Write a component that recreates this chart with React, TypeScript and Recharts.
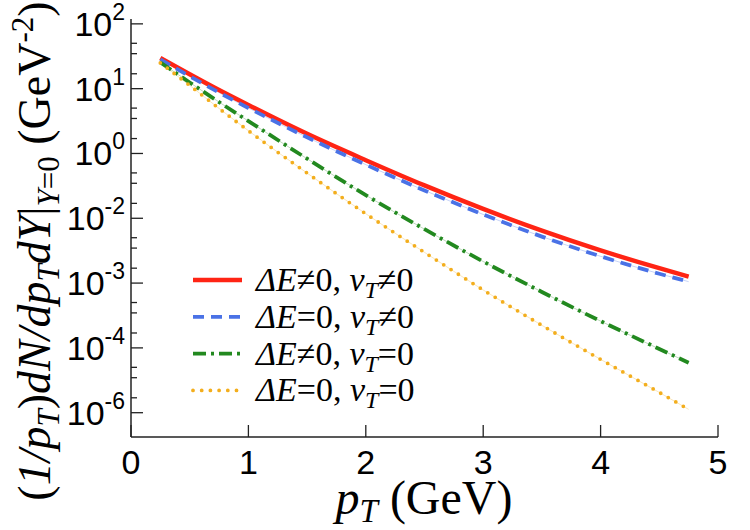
import React from 'react'
import { LineChart, Line, XAxis, YAxis } from 'recharts'

// p_T grid (GeV) and the four spectra (GeV^-2)
const pT = [0.25, 0.5, 0.75, 1, 1.5, 2, 2.5, 3, 3.5, 4, 4.5, 4.75]
const withBoth = [19.9, 9.19, 4.35, 2.14, 0.546, 0.157, 0.0475, 0.0156, 0.00558, 0.00219, 0.000938, 0.00063]
const flowOnly = [18.6, 8.36, 3.86, 1.86, 0.463, 0.127, 0.0374, 0.012, 0.0042, 0.00165, 0.000723, 0.000497]
const eLossOnly = [16.1, 6.23, 2.46, 1.0, 0.168, 0.0299, 0.00597, 0.00129, 0.000305, 7.66e-5, 2.05e-5, 1.07e-5]
const neither = [15.7, 5.41, 1.82, 0.633, 0.0851, 0.0124, 0.00199, 0.000335, 6.28e-5, 1.25e-5, 2.61e-6, 1.17e-6]

const xTicks = [0, 1, 2, 3, 4, 5]
// printed exponents on the y axis (evenly spaced from 1e2 down to 1e-6)
const yExponents = ['2', '1', '0', '-2', '-3', '-4', '-6']
const yMajor = yExponents.map((_, k) => 10 ** (2 - (8 * k) / 6))
const minorFrac = [0.3, 0.46, 0.77]
const yMinor = yMajor.slice(0, -1).flatMap((_, k) => minorFrac.map((f) => 10 ** (2 - ((k + f) * 8) / 6)))
const yTicks = [...yMajor, ...yMinor]

const series = [
  { key: 'withBoth', data: withBoth, color: '#ff2414', dash: undefined, cap: 'butt', e: '≠', v: '≠' },
  { key: 'flowOnly', data: flowOnly, color: '#4a72e6', dash: '11 7', cap: 'butt', e: '=', v: '≠' },
  { key: 'eLossOnly', data: eLossOnly, color: '#22891f', dash: '13 5 3 5', cap: 'butt', e: '≠', v: '=' },
  { key: 'neither', data: neither, color: '#f3ae1d', dash: '0 8.7', cap: 'round', e: '=', v: '=' },
]

const rows = pT.map((x, i) => {
  const r: Record<string, number> = { pT: x }
  series.forEach((s) => (r[s.key] = s.data[i]))
  return r
})

const AX = '#222'
const sans = '"Liberation Sans", Arial, sans-serif'
const serif = '"Liberation Serif", "Times New Roman", serif'

const isMajor = (v: number) => yMajor.findIndex((t) => Math.abs(Math.log10(t) - Math.log10(v)) < 1e-6)

const XTick = (props: any) => {
  const { x, y, payload, side } = props
  const dir = side === 'bottom' ? -1 : 1
  return (
    <g>
      <line x1={x} x2={x} y1={y} y2={y + dir * 12} stroke={AX} strokeWidth={1.3} />
      {side === 'bottom' && (
        <text x={x} y={y + 37} textAnchor="middle" fontFamily={sans} fontSize={34} fill="#000">
          {payload.value}
        </text>
      )}
    </g>
  )
}

const YTick = (props: any) => {
  const { x, y, payload, side } = props
  const k = isMajor(payload.value)
  const len = k >= 0 ? 12 : 6
  const dir = side === 'left' ? 1 : -1
  return (
    <g>
      <line x1={x} x2={x + dir * len} y1={y} y2={y} stroke={AX} strokeWidth={1.3} />
      {side === 'left' && k >= 0 && (
        <text x={x - 6} y={y + 12} textAnchor="end" fontFamily={sans} fontSize={34} fill="#000">
          10
          <tspan dy={-16} fontSize={23}>{yExponents[k]}</tspan>
        </text>
      )}
    </g>
  )
}

export default function App() {
  return (
    <div style={{ position: 'absolute', left: 0, top: 0, width: 750, height: 530, background: '#fff' }}>
      <LineChart width={750} height={530} data={rows} margin={{ top: 19, right: 32, left: 0, bottom: 0 }}>
        <XAxis
          dataKey="pT" type="number" domain={[0, 5]} ticks={xTicks} interval={0} height={93}
          allowDataOverflow tickSize={0} tickMargin={0} tickLine={false}
          axisLine={{ stroke: AX, strokeWidth: 1.5 }} tick={<XTick side="bottom" />}
        />
        <XAxis
          xAxisId="top" orientation="top" dataKey="pT" type="number" domain={[0, 5]} ticks={xTicks} interval={0}
          height={0} allowDataOverflow tickSize={0} tickMargin={0} tickLine={false}
          axisLine={{ stroke: AX, strokeWidth: 1.5 }} tick={<XTick side="top" />}
        />
        <YAxis
          type="number" scale="log" domain={[10 ** -6.5, 10 ** 2.1]} ticks={yTicks} interval={0} width={131}
          allowDataOverflow tickSize={0} tickMargin={0} tickLine={false}
          axisLine={{ stroke: AX, strokeWidth: 1.5 }} tick={<YTick side="left" />}
        />
        <YAxis
          yAxisId="right" orientation="right" type="number" scale="log" domain={[10 ** -6.5, 10 ** 2.1]}
          ticks={yTicks} interval={0} width={0} allowDataOverflow tickSize={0} tickMargin={0} tickLine={false}
          axisLine={{ stroke: AX, strokeWidth: 1.5 }} tick={<YTick side="right" />}
        />
        {series.slice(1).map((s) => (
          <Line
            key={s.key + '-ghost'} dataKey={s.key} type="monotone" stroke={s.color} strokeOpacity={0.3}
            strokeWidth={1} dot={false} activeDot={false} isAnimationActive={false} legendType="none"
          />
        ))}
        {series.map((s) => (
          <Line
            key={s.key} dataKey={s.key} type="monotone" stroke={s.color} strokeWidth={s.key === 'withBoth' ? 4.4 : 3.8}
            strokeDasharray={s.dash} strokeLinecap={s.cap as any} dot={false} activeDot={false}
            isAnimationActive={false}
          />
        ))}
      </LineChart>

      <svg width={750} height={530} style={{ position: 'absolute', left: 0, top: 0, pointerEvents: 'none' }}>
        {/* legend */}
        {series.map((s, i) => {
          const y = 280 + i * 36.8
          return (
            <g key={s.key}>
              <line x1={193} x2={242} y1={y} y2={y} stroke={s.color} strokeWidth={s.key === 'withBoth' ? 4.4 : 3.8}
                strokeDasharray={s.dash} strokeLinecap={s.cap as any} />
              <text x={256} y={y + 11} fontFamily={serif} fontSize={34} fill="#000">
                <tspan fontStyle="italic">ΔE</tspan>
                <tspan>{s.e}0,{'\u00a0'}</tspan>
                <tspan fontStyle="italic">v</tspan>
                <tspan fontStyle="italic" fontSize={24} dy={7}>T</tspan>
                <tspan dy={-7}>{s.v}0</tspan>
              </text>
            </g>
          )
        })}

        {/* axis titles */}
        <text x={424} y={514} textAnchor="middle" fontFamily={serif} fontSize={48} fill="#000">
          <tspan fontStyle="italic">p</tspan>
          <tspan fontStyle="italic" fontSize={33} dy={8}>T</tspan>
          <tspan dy={-8}>{'\u00a0(GeV)'}</tspan>
        </text>
        <text x={50} y={251} transform="rotate(-90 50 251)" textAnchor="middle" fontFamily={serif} fontSize={46} fill="#000">
          <tspan>(</tspan>
          <tspan fontStyle="italic">1/p</tspan>
          <tspan fontStyle="italic" fontSize={31} dy={9}>T</tspan>
          <tspan dy={-9}>)</tspan>
          <tspan fontStyle="italic">dN/dp</tspan>
          <tspan fontStyle="italic" fontSize={31} dy={9}>T</tspan>
          <tspan fontStyle="italic" dy={-9}>dY</tspan>
          <tspan>|</tspan>
          <tspan fontStyle="italic" fontSize={31} dy={9}>Y</tspan>
          <tspan fontSize={31}>=0</tspan>
          <tspan dy={-9}>{'\u00a0(GeV'}</tspan>
          <tspan fontSize={31} dy={-17}>-2</tspan>
          <tspan dy={17}>)</tspan>
        </text>
      </svg>
    </div>
  )
}
